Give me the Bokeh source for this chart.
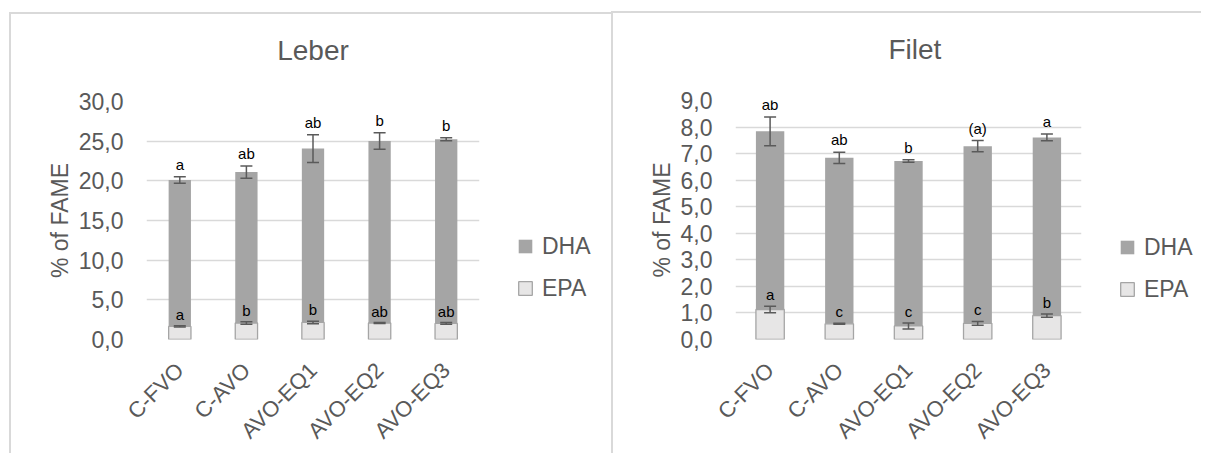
import math
from bokeh.plotting import figure
from bokeh.models import (ColumnDataSource, Whisker, TeeHead, LabelSet, Legend,
                          LegendItem, FixedTicker, Range1d, FactorRange, Title)
from bokeh.core.properties import value
from bokeh.layouts import row
from bokeh.embed import file_html
from bokeh.resources import INLINE

# ---------------- data ----------------
categories = ["C-FVO", "C-AVO", "AVO-EQ1", "AVO-EQ2", "AVO-EQ3"]
series_names = ["DHA", "EPA"]

leber_epa = [1.65, 2.08, 2.15, 2.08, 2.03]
leber_epa_err = [0.09, 0.15, 0.16, 0.06, 0.10]
leber_dha = [18.45, 19.02, 21.91, 22.93, 23.21]
leber_total_err = [0.42, 0.77, 1.76, 1.04, 0.20]
leber_top_letters = ["a", "ab", "ab", "b", "b"]
leber_epa_letters = ["a", "b", "b", "ab", "ab"]
leber_ticks = [0, 5, 10, 15, 20, 25, 30]
leber_tick_labels = ["0,0", "5,0", "10,0", "15,0", "20,0", "25,0", "30,0"]

filet_epa = [1.13, 0.59, 0.51, 0.61, 0.90]
filet_epa_err = [0.12, 0.02, 0.11, 0.07, 0.06]
filet_dha = [6.71, 6.25, 6.21, 6.67, 6.71]
filet_total_err = [0.54, 0.21, 0.05, 0.21, 0.13]
filet_top_letters = ["ab", "ab", "b", "(a)", "a"]
filet_epa_letters = ["a", "c", "c", "c", "b"]
filet_ticks = [0, 1, 2, 3, 4, 5, 6, 7, 8, 9]
filet_tick_labels = ["0,0", "1,0", "2,0", "3,0", "4,0", "5,0", "6,0", "7,0", "8,0", "9,0"]

# ---------------- style ----------------
FONT = "Liberation Sans"
TXT = "#595959"
GRID = "#d9d9d9"
DHA_C = "#a5a5a5"
EPA_C = "#e7e6e6"
ERR_C = "#5a5a5a"
BORDER = "2px solid #d9d9d9"
PAD = "\u00a0\u00a0"   # shifts the rotated category labels along their direction


def make_chart(title, epa, epa_err, dha, total_err, top_letters, epa_letters,
               ticks, tick_labels, width, height, mbl, mbr, mbt, mbb, bar_w,
               title_align, title_offset, margin):
    total = [e + d for e, d in zip(epa, dha)]
    src = ColumnDataSource(dict(
        x=categories, epa=epa, total=total,
        t_up=[t + e for t, e in zip(total, total_err)],
        t_lo=[t - e for t, e in zip(total, total_err)],
        e_up=[t + e for t, e in zip(epa, epa_err)],
        e_lo=[t - e for t, e in zip(epa, epa_err)],
        tl=top_letters, el=epa_letters,
    ))
    p = figure(x_range=FactorRange(factors=categories, range_padding=0),
               y_range=Range1d(ticks[0], ticks[-1]), title=None,
               width=width, height=height, output_backend="svg",
               toolbar_location=None,
               min_border_left=mbl, min_border_right=mbr,
               min_border_top=mbt, min_border_bottom=mbb)
    p.outline_line_color = None
    p.background_fill_color = "white"
    p.border_fill_color = "white"

    p.vbar(x="x", bottom=0, top="epa", width=bar_w, source=src,
           fill_color=EPA_C, line_color=DHA_C, line_width=1.3)
    p.vbar(x="x", bottom="epa", top="total", width=bar_w, source=src,
           fill_color=DHA_C, line_color=None)

    for up, lo in (("t_up", "t_lo"), ("e_up", "e_lo")):
        w = Whisker(base="x", upper=up, lower=lo, source=src,
                    line_color=ERR_C, line_width=1.5, level="overlay",
                    upper_head=TeeHead(size=12, line_color=ERR_C, line_width=1.5),
                    lower_head=TeeHead(size=12, line_color=ERR_C, line_width=1.5))
        p.add_layout(w)

    for ycol, tcol, off in (("t_up", "tl", 7), ("e_up", "el", 6)):
        ls = LabelSet(x="x", y=ycol, text=tcol, source=src, text_align="center",
                      text_baseline="alphabetic", y_offset=off,
                      text_font_size=value("15px"), text_color=value("black"),
                      text_font=value(FONT))
        p.add_layout(ls)

    # spacer (closest to frame) then the visible title
    p.add_layout(Title(text=" ", text_font_size="1px", standoff=15), "above")
    p.add_layout(Title(text=title, align=title_align, offset=title_offset,
                       standoff=36, text_font=FONT, text_font_size="28px",
                       text_font_style="normal", text_color=TXT), "above")

    # axes
    p.yaxis.ticker = FixedTicker(ticks=ticks)
    p.yaxis.major_label_overrides = {t: l for t, l in zip(ticks, tick_labels)}
    p.yaxis.axis_label = "% of FAME"
    p.yaxis.axis_label_text_font = FONT
    p.yaxis.axis_label_text_font_size = "23px"
    p.yaxis.axis_label_text_font_style = "normal"
    p.yaxis.axis_label_text_color = TXT
    p.yaxis.axis_label_standoff = 3
    for ax in (p.xaxis, p.yaxis):
        ax.axis_line_color = None
        ax.major_tick_line_color = None
        ax.minor_tick_line_color = None
        ax.major_label_text_font = FONT
        ax.major_label_text_color = TXT
    p.yaxis.major_label_text_font_size = "23px"
    p.yaxis.major_label_standoff = 17
    p.xaxis.major_label_text_font_size = "22px"
    p.xaxis.major_label_orientation = math.pi / 4
    p.xaxis.major_label_standoff = 21
    p.xaxis.major_label_overrides = {c: c + PAD for c in categories}

    p.xgrid.grid_line_color = None
    p.ygrid.grid_line_color = GRID
    p.ygrid.grid_line_width = 1.5

    p.styles = {"border-top": BORDER, "border-left": BORDER}
    p.margin = margin
    return p


def make_legend(width, height, loc, margin):
    q = figure(x_range=Range1d(0, 1), y_range=Range1d(0, 1), title=None,
               width=width, height=height, output_backend="svg",
               toolbar_location=None, x_axis_type=None, y_axis_type=None,
               min_border=0)
    q.outline_line_color = None
    q.background_fill_color = "white"
    q.border_fill_color = "white"
    q.xgrid.visible = False
    q.ygrid.visible = False
    # legend proxies: a single point kept outside the visible range
    r_dha = q.scatter(x=[-1], y=[-1], marker="square", fill_color=DHA_C,
                      line_color=None)
    r_epa = q.scatter(x=[-1], y=[-1], marker="square", fill_color=EPA_C,
                      line_color=DHA_C, line_width=1.3)
    lg = Legend(items=[LegendItem(label=series_names[0], renderers=[r_dha]),
                       LegendItem(label=series_names[1], renderers=[r_epa])],
                location=loc, glyph_width=34, glyph_height=34,
                label_standoff=-10, spacing=8, padding=0, margin=0,
                border_line_color=None, background_fill_alpha=0,
                label_text_font_size="23px", label_text_color=TXT,
                label_text_font=FONT, label_height=34)
    q.add_layout(lg)
    q.styles = {"border-top": BORDER}
    q.margin = margin
    return q


p1 = make_chart("Leber", leber_epa, leber_epa_err, leber_dha, leber_total_err,
                leber_top_letters, leber_epa_letters, leber_ticks, leber_tick_labels,
                width=488, height=441, mbl=135, mbr=20, mbt=85, mbb=115,
                bar_w=0.335, title_align="center", title_offset=0,
                margin=(12, 0, 0, 9))
l1 = make_legend(114, 441, (11, 34), (12, 0, 0, 0))
p2 = make_chart("Filet", filet_epa, filet_epa_err, filet_dha, filet_total_err,
                filet_top_letters, filet_epa_letters, filet_ticks, filet_tick_labels,
                width=487, height=442, mbl=122, mbr=19, mbt=85, mbb=116,
                bar_w=0.41, title_align="left", title_offset=153,
                margin=(11, 0, 0, 0))
l2 = make_legend(103, 442, (12, 33), (11, 0, 0, 0))

layout = row(p1, l1, p2, l2)
open("out.html", "w").write(file_html(layout, INLINE))
